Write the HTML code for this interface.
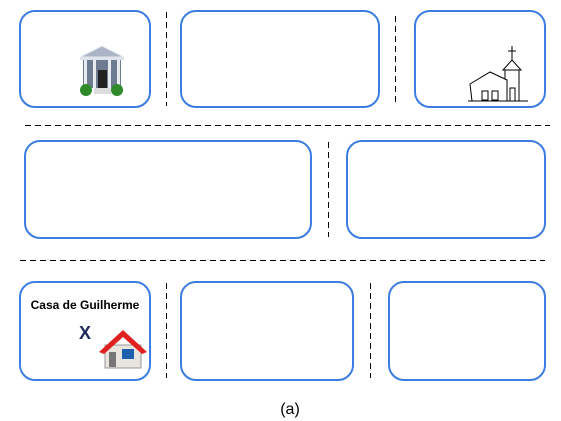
<!DOCTYPE html>
<html><head><meta charset="utf-8"><style>
body{margin:0;background:#fff;width:561px;height:421px;overflow:hidden;font-family:"Liberation Sans",sans-serif}
svg{display:block}
</style></head><body>
<svg width="561" height="421">
<g fill="none" stroke="#3b7de0" stroke-width="2">
<rect x="20" y="11" width="130" height="96" rx="15"/>
<rect x="181" y="11" width="198" height="96" rx="15"/>
<rect x="415" y="11" width="130" height="96" rx="15"/>
<rect x="25" y="141" width="286" height="97" rx="15"/>
<rect x="347" y="141" width="198" height="97" rx="15"/>
<rect x="20" y="282" width="130" height="98" rx="15"/>
<rect x="181" y="282" width="172" height="98" rx="15"/>
<rect x="389" y="282" width="156" height="98" rx="15"/>
</g>
<g stroke="#000" stroke-width="1" stroke-dasharray="6,4">
<line x1="166.5" y1="12" x2="166.5" y2="106"/>
<line x1="395.5" y1="16" x2="395.5" y2="106"/>
<line x1="25" y1="125.5" x2="550" y2="125.5"/>
<line x1="328.5" y1="142" x2="328.5" y2="237"/>
<line x1="20" y1="260.5" x2="545" y2="260.5"/>
<line x1="166.5" y1="283" x2="166.5" y2="378"/>
<line x1="370.5" y1="283" x2="370.5" y2="378"/>
</g>
<g>
<polygon points="80,57 102,46 124,57" fill="#aab4c4" stroke="#e8ecf2"/>
<rect x="80" y="57" width="44" height="3" fill="#e0e4ea"/>
<rect x="83" y="60" width="38" height="28" fill="#6f7b90"/>
<rect x="84" y="60" width="3" height="28" fill="#e8ecf0"/><rect x="93" y="60" width="3" height="28" fill="#e8ecf0"/>
<rect x="108" y="60" width="3" height="28" fill="#e8ecf0"/><rect x="117" y="60" width="3" height="28" fill="#e8ecf0"/>
<rect x="98" y="70" width="9" height="18" fill="#222"/>
<rect x="94" y="88" width="17" height="6" fill="#ddd"/>
<circle cx="86" cy="90" r="6" fill="#2f8a2a"/><circle cx="117" cy="90" r="6" fill="#2f8a2a"/>
</g>
<g fill="#fff" stroke="#000" stroke-width="1">
<line x1="512" y1="46" x2="512" y2="60"/><line x1="508" y1="51" x2="516" y2="51"/>
<polygon points="503,70 512,60 521,70"/>
<rect x="505" y="70" width="14" height="31"/>
<polygon points="470,84 490,72 507,80 507,101 472,101"/>
<line x1="468" y1="101" x2="528" y2="101"/>
<rect x="482" y="91" width="6" height="9"/><rect x="492" y="91" width="6" height="9"/><rect x="510" y="88" width="5" height="13"/>
</g>
<text x="85" y="309" font-size="12" font-weight="bold" text-anchor="middle" fill="#000">Casa de Guilherme</text>
<text x="85" y="339" font-size="18" font-weight="bold" text-anchor="middle" fill="#1f2a5a">X</text>
<g>
<rect x="105" y="345" width="36" height="23" fill="#e8e4de" stroke="#999"/>
<polygon points="99,352 123,330 147,352 142,354 123,337 104,354" fill="#e02020"/>
<rect x="109" y="352" width="7" height="15" fill="#777"/>
<rect x="122" y="349" width="12" height="10" fill="#1f5fb0"/>
</g>
<text x="290" y="414" font-size="16" text-anchor="middle" fill="#000">(a)</text>
</svg>
</body></html>
